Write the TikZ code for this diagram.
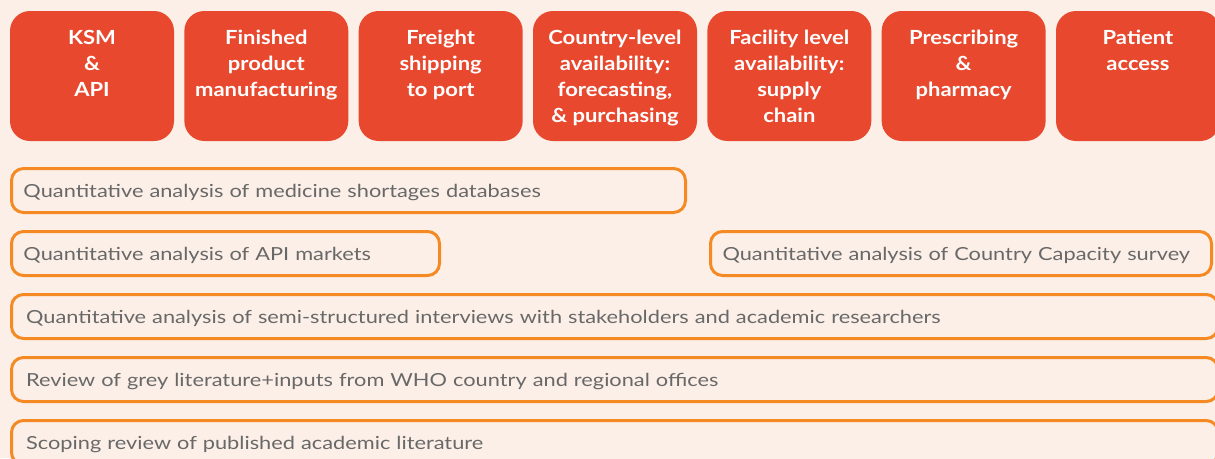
\documentclass[tikz,border=0pt]{standalone}
\usepackage{fontspec}
\setmainfont{Lato}
\newfontfamily\stagefont[FakeStretch=1.13]{Lato}
\newfontfamily\methodfont[FakeStretch=1.21]{Lato}
\usepackage{tikz}
\usetikzlibrary{positioning}
\definecolor{pagebg}{HTML}{FCEFE7}
\definecolor{stagered}{HTML}{E8482E}
\definecolor{boxorange}{HTML}{F58A25}
\definecolor{textgrey}{HTML}{686868}
\newcommand{\stagetext}[1]{\parbox[c][97.5pt][t]{123pt}{\centering\stagefont\fontsize{14.6pt}{19.5pt}\selectfont\bfseries\rule{0pt}{24.75pt}#1}}

\begin{document}
\begin{tikzpicture}[x=0.75pt, y=-0.75pt, node distance=7.75pt]
    % Define styles
    \tikzstyle{stage} = [rectangle, fill=stagered, text=white, rounded corners=15pt, inner sep=0pt, outer sep=0pt, minimum width=123pt, minimum height=97.5pt]
    \tikzstyle{method} = [rectangle, draw=boxorange, line width=2.25pt, fill=pagebg, rounded corners=9pt, text=textgrey, minimum height=33pt, inner xsep=9pt, inner ysep=0pt, outer sep=0pt, text height=11.5pt, text depth=1pt, align=left, font=\methodfont\fontsize{13.5pt}{16pt}\selectfont]

    % Page
    \useasboundingbox (0,0) rectangle (1215,458);
    \clip (0,0) rectangle (1215,458);
    \fill [pagebg] (0,0) rectangle (1215,458);

    % Place nodes - supply chain stages
    \node [stage, anchor=north west] (ksm) at (10,11) {\stagetext{KSM\\\&\\API}};
    \node [stage, right=of ksm] (finished) {\stagetext{Finished\\product\\manufacturing}};
    \node [stage, right=of finished] (freight) {\stagetext{Freight\\shipping\\to port}};
    \node [stage, right=of freight] (country) {\stagetext{Country-level\\availability:\\forecasting,\\\& purchasing}};
    \node [stage, right=of country] (facility) {\stagetext{Facility level\\availability:\\supply\\chain}};
    \node [stage, right=of facility] (prescribing) {\stagetext{Prescribing\\\&\\pharmacy}};
    \node [stage, right=of prescribing] (patient) {\stagetext{Patient\\access}};

    % Place nodes - methods
    \node [method, text width=487.5pt, anchor=north west] (shortages) at (11.5,168.5) {Quantitative analysis of medicine shortages databases};
    \node [method, text width=303pt, below=14.25pt of shortages.south west, anchor=north west] (apimarkets) {Quantitative analysis of API markets};
    \node [method, text width=357.75pt, right=203.25pt of apimarkets] (capacity) {Quantitative analysis of Country Capacity survey};
    \node [method, text width=883pt, below=14.25pt of apimarkets.south west, anchor=north west, inner xsep=11pt] (interviews) {Quantitative analysis of semi-structured interviews with stakeholders and academic researchers};
    \node [method, text width=883pt, below=14.25pt of interviews.south west, anchor=north west, inner xsep=11pt] (greylit) {Review of grey literature+inputs from WHO country and regional offices};
    \node [method, text width=883pt, below=14.25pt of greylit.south west, anchor=north west, inner xsep=11pt] (scoping) {Scoping review of published academic literature};

\end{tikzpicture}
\end{document}
